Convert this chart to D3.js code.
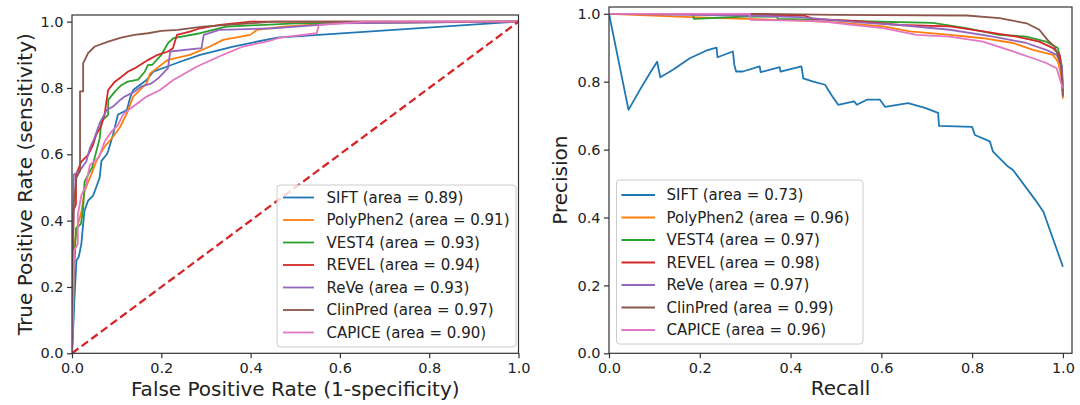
<!DOCTYPE html>
<html>
<head>
<meta charset="utf-8">
<script src="https://cdn.jsdelivr.net/npm/d3@7"></script>
<style>
body { margin: 0; background: #fff; }
svg { font-family: "DejaVu Sans", sans-serif; }
</style>
</head>
<body>
<svg id="chart" width="1080" height="405"></svg>
<script>
var models = ["SIFT", "PolyPhen2", "VEST4", "REVEL", "ReVe", "ClinPred", "CAPICE"];
var colors = ["#1f77b4", "#ff7f0e", "#2ca02c", "#d62728", "#9467bd", "#8c564b", "#e377c2"];
var rocArea = [0.89, 0.91, 0.93, 0.94, 0.93, 0.97, 0.90];
var prArea = [0.73, 0.96, 0.97, 0.98, 0.97, 0.99, 0.96];
var tickValues = [0, 0.2, 0.4, 0.6, 0.8, 1.0];

// ROC curves, [fpr, tpr]
var rocSIFT = [[0,0],[0.002,0.05],[0.005,0.15],[0.01,0.28],[0.015,0.29],[0.021,0.33],[0.025,0.39],[0.028,0.43],[0.036,0.46],[0.047,0.475],[0.054,0.50],[0.062,0.53],[0.066,0.58],[0.078,0.60],[0.081,0.61],[0.092,0.66],[0.103,0.72],[0.118,0.73],[0.123,0.734],[0.13,0.77],[0.137,0.794],[0.167,0.824],[0.182,0.849],[0.212,0.864],[0.242,0.879],[0.287,0.9],[0.361,0.925],[0.46,0.952],[1,1]];
var rocPolyPhen2 = [[0,0],[0.002,0.215],[0.007,0.34],[0.013,0.387],[0.021,0.427],[0.028,0.487],[0.036,0.517],[0.043,0.538],[0.054,0.578],[0.066,0.608],[0.073,0.623],[0.092,0.653],[0.108,0.683],[0.123,0.724],[0.137,0.774],[0.167,0.814],[0.175,0.844],[0.215,0.885],[0.264,0.9],[0.309,0.925],[0.338,0.945],[0.399,0.96],[0.414,0.975],[0.473,0.985],[0.6,0.996],[1,1]];
var rocVEST4 = [[0,0],[0.002,0.1],[0.005,0.25],[0.009,0.377],[0.02,0.39],[0.025,0.437],[0.028,0.517],[0.036,0.538],[0.045,0.56],[0.062,0.648],[0.066,0.70],[0.081,0.719],[0.081,0.764],[0.096,0.789],[0.111,0.809],[0.125,0.819],[0.148,0.825],[0.163,0.849],[0.17,0.869],[0.18,0.87],[0.2,0.9],[0.215,0.935],[0.227,0.95],[0.287,0.965],[0.316,0.975],[0.346,0.985],[0.5,0.995],[1,1]];
var rocREVEL = [[0,0],[0.002,0.2],[0.003,0.43],[0.009,0.45],[0.009,0.538],[0.021,0.578],[0.036,0.598],[0.047,0.628],[0.054,0.658],[0.066,0.688],[0.073,0.719],[0.077,0.759],[0.081,0.794],[0.096,0.819],[0.111,0.834],[0.125,0.849],[0.14,0.859],[0.17,0.884],[0.192,0.9],[0.215,0.91],[0.226,0.92],[0.235,0.96],[0.264,0.97],[0.287,0.98],[0.331,0.99],[0.4,1.0],[1,1]];
var rocReVe = [[0,0],[0.002,0.3],[0.004,0.538],[0.017,0.55],[0.032,0.578],[0.04,0.618],[0.05,0.648],[0.062,0.694],[0.078,0.734],[0.092,0.744],[0.108,0.764],[0.118,0.774],[0.14,0.789],[0.155,0.804],[0.178,0.814],[0.193,0.829],[0.215,0.86],[0.22,0.91],[0.29,0.92],[0.295,0.96],[0.33,0.975],[0.45,0.98],[0.6,0.995],[1,1]];
var rocClinPred = [[0,0],[0.002,0.3],[0.004,0.45],[0.01,0.53],[0.018,0.55],[0.018,0.79],[0.025,0.79],[0.025,0.875],[0.032,0.894],[0.036,0.905],[0.051,0.925],[0.081,0.94],[0.11,0.952],[0.14,0.96],[0.17,0.965],[0.2,0.972],[0.237,0.975],[0.293,0.985],[0.45,1.0],[1,1]];
var rocCAPICE = [[0,0],[0.002,0.1],[0.005,0.31],[0.013,0.33],[0.013,0.417],[0.021,0.477],[0.03,0.5],[0.04,0.568],[0.06,0.59],[0.073,0.638],[0.088,0.668],[0.103,0.688],[0.114,0.719],[0.123,0.73],[0.137,0.744],[0.167,0.774],[0.197,0.794],[0.227,0.824],[0.279,0.864],[0.338,0.9],[0.383,0.925],[0.436,0.94],[0.466,0.952],[0.548,0.965],[0.553,0.99],[0.66,1.0],[1,1]];

// precision-recall curves, [recall, precision]
var prSIFT = [[0,1.0],[0.043,0.717],[0.068,0.776],[0.09,0.825],[0.106,0.859],[0.113,0.813],[0.141,0.835],[0.178,0.869],[0.215,0.892],[0.237,0.90],[0.239,0.872],[0.273,0.889],[0.276,0.85],[0.28,0.83],[0.295,0.83],[0.332,0.845],[0.334,0.828],[0.376,0.843],[0.378,0.83],[0.424,0.845],[0.428,0.81],[0.45,0.80],[0.476,0.791],[0.49,0.761],[0.505,0.732],[0.54,0.742],[0.546,0.732],[0.568,0.747],[0.597,0.747],[0.608,0.726],[0.659,0.737],[0.696,0.723],[0.725,0.708],[0.727,0.670],[0.8,0.667],[0.806,0.643],[0.839,0.624],[0.846,0.594],[0.879,0.55],[0.89,0.54],[0.939,0.452],[0.957,0.417],[1.0,0.255]];
var prPolyPhen2 = [[0,1.0],[0.18,0.99],[0.3,0.985],[0.42,0.98],[0.5,0.975],[0.604,0.963],[0.663,0.948],[0.751,0.938],[0.824,0.928],[0.89,0.914],[0.934,0.894],[0.978,0.879],[0.989,0.859],[0.996,0.82],[1.0,0.75]];
var prVEST4 = [[0,1.0],[0.185,1.0],[0.187,0.985],[0.303,0.992],[0.369,0.992],[0.372,0.985],[0.479,0.982],[0.55,0.978],[0.713,0.973],[0.787,0.958],[0.86,0.938],[0.919,0.933],[0.963,0.918],[0.989,0.899],[0.997,0.85],[1.0,0.76]];
var prREVEL = [[0,1.0],[0.3,0.998],[0.43,0.995],[0.45,0.985],[0.55,0.978],[0.64,0.967],[0.751,0.963],[0.824,0.948],[0.898,0.933],[0.948,0.918],[0.978,0.899],[0.993,0.879],[0.998,0.83],[1.0,0.77]];
var prReVe = [[0,1.0],[0.3,0.995],[0.42,0.99],[0.55,0.975],[0.64,0.967],[0.751,0.953],[0.846,0.933],[0.919,0.914],[0.963,0.894],[0.986,0.879],[0.998,0.845],[1.0,0.77]];
var prClinPred = [[0,1.0],[0.31,1.0],[0.5,0.997],[0.788,0.995],[0.86,0.987],[0.92,0.972],[0.948,0.953],[0.966,0.923],[0.981,0.904],[0.989,0.879],[0.996,0.845],[1.0,0.756]];
var prCAPICE = [[0,1.0],[0.31,1.0],[0.312,0.982],[0.42,0.98],[0.47,0.978],[0.53,0.968],[0.604,0.958],[0.678,0.938],[0.751,0.933],[0.824,0.918],[0.89,0.889],[0.934,0.869],[0.963,0.855],[0.986,0.84],[0.996,0.796],[1.0,0.78]];

var rocCurves = [rocSIFT, rocPolyPhen2, rocVEST4, rocREVEL, rocReVe, rocClinPred, rocCAPICE];
var prCurves = [prSIFT, prPolyPhen2, prVEST4, prREVEL, prReVe, prClinPred, prCAPICE];

var svg = d3.select("#chart");
var fmt = d3.format(".1f");

const create_panel = function(opt) {
    var x = d3.scaleLinear().domain(opt.xdom).range([opt.left, opt.right]);
    var y = d3.scaleLinear().domain(opt.ydom).range([opt.bottom, opt.top]);

    var g = svg.append("g");

    g.append("clipPath")
        .attr("id", opt.id + "-clip")
        .append("rect")
        .attr("x", opt.left)
        .attr("y", opt.top)
        .attr("width", opt.right - opt.left)
        .attr("height", opt.bottom - opt.top);

    var line = d3.line()
        .x(function(d) { return x(d[0]); })
        .y(function(d) { return y(d[1]); });

    var plot = g.append("g").attr("clip-path", "url(#" + opt.id + "-clip)");

    plot.selectAll("path.curve")
        .data(opt.curves)
        .enter()
        .append("path")
        .attr("class", "curve")
        .attr("d", line)
        .attr("fill", "none")
        .attr("stroke", function(d, i) { return colors[i]; })
        .attr("stroke-width", 1.8)
        .attr("stroke-linejoin", "round");

    if (opt.diagonal) {
        plot.append("path")
            .attr("d", line([[0, 0], [1, 1]]))
            .attr("fill", "none")
            .attr("stroke", "#d62728")
            .attr("stroke-width", 2.3)
            .attr("stroke-dasharray", "8,4");
    }

    var xAxis = g.append("g")
        .attr("transform", "translate(0," + opt.bottom + ")")
        .call(d3.axisBottom(x).tickValues(tickValues).tickFormat(fmt).tickSize(5).tickPadding(4));
    var yAxis = g.append("g")
        .attr("transform", "translate(" + opt.left + ",0)")
        .call(d3.axisLeft(y).tickValues(tickValues).tickFormat(fmt).tickSize(5).tickPadding(3.5));

    [xAxis, yAxis].forEach(function(a) {
        a.select(".domain").remove();
        a.selectAll("line").attr("stroke", "#333").attr("stroke-width", 1.2);
        a.selectAll("text")
            .attr("fill", "#222")
            .style("font-size", "14.5px")
            .style("font-family", "DejaVu Sans");
    });

    g.append("rect")
        .attr("x", opt.left)
        .attr("y", opt.top)
        .attr("width", opt.right - opt.left)
        .attr("height", opt.bottom - opt.top)
        .attr("fill", "none")
        .attr("stroke", "#333")
        .attr("stroke-width", 1.2);

    // legend
    var lg = g.append("g");
    lg.append("rect")
        .attr("x", opt.legend.x0)
        .attr("y", opt.legend.y0)
        .attr("width", opt.legend.x1 - opt.legend.x0)
        .attr("height", opt.legend.y1 - opt.legend.y0)
        .attr("rx", 3)
        .attr("fill", "#fff")
        .attr("fill-opacity", 0.8)
        .attr("stroke", "#cccccc")
        .attr("stroke-width", 1);

    var rows = lg.selectAll("g.row")
        .data(models)
        .enter()
        .append("g")
        .attr("class", "row")
        .attr("transform", function(d, i) {
            return "translate(0," + (opt.legend.firstRow + i * 22.5) + ")";
        });
    rows.append("line")
        .attr("x1", opt.legend.h0)
        .attr("x2", opt.legend.h1)
        .attr("stroke", function(d, i) { return colors[i]; })
        .attr("stroke-width", 1.8);
    rows.append("text")
        .attr("x", opt.legend.tx)
        .attr("dy", "0.36em")
        .attr("fill", "#222")
        .style("font-size", "15px")
        .text(function(d, i) { return d + " (area = " + opt.areas[i].toFixed(2) + ")"; });

    g.append("text")
        .attr("x", (opt.left + opt.right) / 2)
        .attr("y", opt.xlabelY)
        .attr("text-anchor", "middle")
        .attr("fill", "#222")
        .style("font-size", "20px")
        .text(opt.xlabel);

    g.append("text")
        .attr("transform", "translate(" + opt.ylabelX + "," + ((opt.top + opt.bottom) / 2) + ") rotate(-90)")
        .attr("text-anchor", "middle")
        .attr("fill", "#222")
        .style("font-size", "20px")
        .text(opt.ylabel);
};

create_panel({
    id: "roc",
    xdom: [0, 1], ydom: [0, 1.02],
    left: 72, right: 518.5, top: 15, bottom: 353.3,
    curves: rocCurves, areas: rocArea, diagonal: true,
    xlabel: "False Positive Rate (1-specificity)", xlabelY: 396,
    ylabel: "True Positive Rate (sensitivity)", ylabelX: 32,
    legend: { x0: 277, x1: 516, y0: 185, y1: 347, firstRow: 197.5, h0: 283, h1: 314, tx: 326.5 }
});

create_panel({
    id: "pr",
    xdom: [0, 1.02], ydom: [0, 1.02],
    left: 609, right: 1072, top: 7, bottom: 353.3,
    curves: prCurves, areas: prArea, diagonal: false,
    xlabel: "Recall", xlabelY: 395,
    ylabel: "Precision", ylabelX: 567,
    legend: { x0: 616.5, x1: 863, y0: 180, y1: 344, firstRow: 195, h0: 621.5, h1: 655, tx: 666.5 }
});
</script>
</body>
</html>
